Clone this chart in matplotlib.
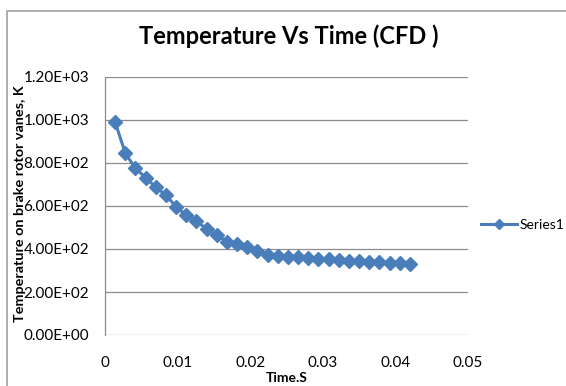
import matplotlib.pyplot as plt
from matplotlib.lines import Line2D

# data
time_s = [0.0014, 0.0028, 0.0042, 0.0056, 0.0070, 0.0084, 0.0098, 0.0112, 0.0126, 0.0140,
          0.0154, 0.0168, 0.0182, 0.0196, 0.0210, 0.0224, 0.0238, 0.0252, 0.0266, 0.0280,
          0.0294, 0.0308, 0.0322, 0.0336, 0.0350, 0.0364, 0.0378, 0.0392, 0.0406, 0.0420]
temp_k = [990, 845, 775, 732, 687, 651, 595, 558, 530, 493,
          465, 434, 423, 409, 392, 373, 367, 364, 361, 358,
          354, 352, 349, 346, 343, 340, 338, 337, 335, 330]
x_ticks = [0, 0.01, 0.02, 0.03, 0.04, 0.05]
y_ticks = [0, 200, 400, 600, 800, 1000, 1200]

plt.rcParams['font.family'] = ['Lato', 'DejaVu Sans']
blue = '#4a7ebb'
grey = '#8c8c8c'

fig = plt.figure(figsize=(5.66, 3.86), dpi=100)
W, H = 566, 386
ax = fig.add_axes([105 / W, 1 - 335 / H, (468 - 105) / W, (335 - 77) / H])

ax.plot(time_s, temp_k, color=blue, lw=2.2, marker='D', ms=7,
        markeredgecolor=blue, markerfacecolor=blue, label='Series1', zorder=3)

ax.set_xlim(0, 0.05)
ax.set_ylim(0, 1200)
ax.set_xticks(x_ticks)
ax.set_xticklabels(['0', '0.01', '0.02', '0.03', '0.04', '0.05'])
ax.set_yticks(y_ticks)
ax.set_yticklabels(['%.2E' % v for v in y_ticks])
ax.tick_params(axis='both', length=0, labelsize=11, colors='black')
ax.tick_params(axis='y', pad=11.5)
ax.tick_params(axis='x', pad=15)

ax.grid(axis='y', color=grey, lw=0.9)
ax.set_axisbelow(True)
for s in ['top', 'right', 'bottom']:
    ax.spines[s].set_visible(False)
ax.spines['left'].set_color(grey)
ax.spines['left'].set_linewidth(0.9)

fig.text(289 / W, 1 - 36 / H, 'Temperature Vs Time (CFD )', fontsize=17,
         fontweight='bold', ha='center', va='center')

ax.set_xlabel('Time.S', fontsize=10, fontweight='bold')
ax.xaxis.set_label_coords(0.5, (335 - 378) / 258)
ax.xaxis.label.set_va('center')
ax.set_ylabel('Temperature on brake rotor vanes, K', fontsize=10.4, fontweight='bold')
ax.yaxis.set_label_coords((20 - 105) / 363, (335 - 204) / 258)
ax.yaxis.label.set_va('center')

fig.legend(handles=[Line2D([], [], color=blue, lw=2.2, marker='D', ms=5)],
           labels=['Series1'], loc='center left', bbox_to_anchor=(468 / W, 1 - 225 / H),
           frameon=False, fontsize=10, handlelength=2.6, handletextpad=0.2)

# chart area border (top and left only visible)
fig.add_artist(Line2D([7 / W, 7 / W, 1], [0, 1 - 10.5 / H, 1 - 10.5 / H],
                      transform=fig.transFigure, color='#a0a0a0', lw=1.2))

fig.savefig('out.png', dpi=100)
